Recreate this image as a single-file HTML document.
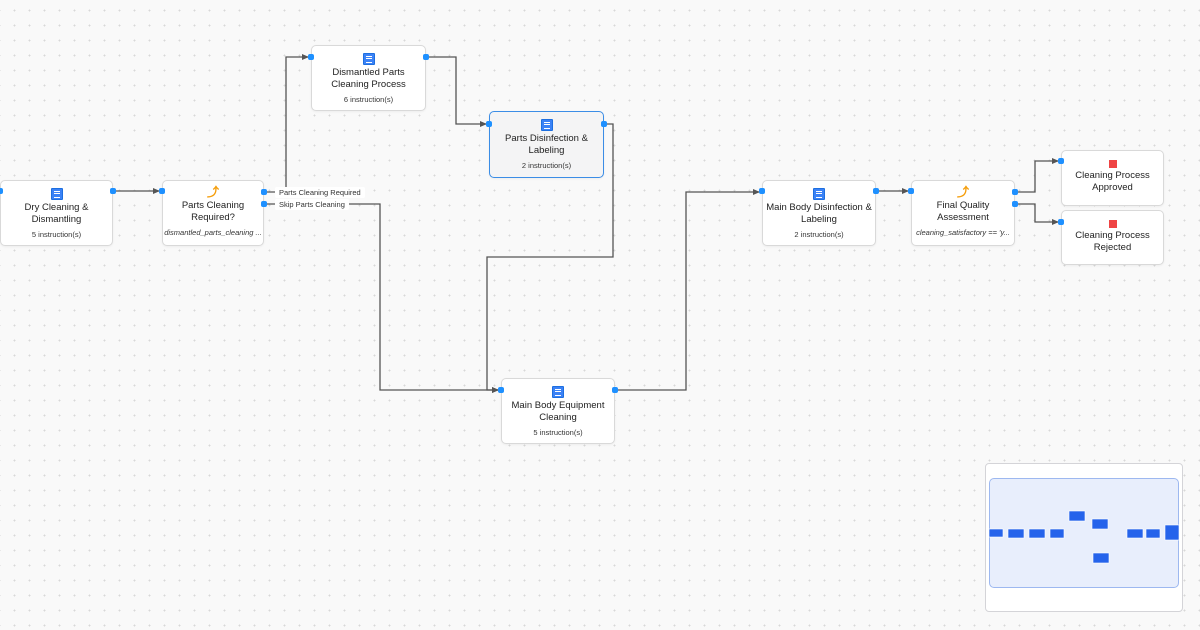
<!DOCTYPE html>
<html><head><meta charset="utf-8"><style>
body{margin:0;width:1200px;height:630px;overflow:hidden;font-family:"Liberation Sans",Arial,sans-serif;background-color:#f9f9f9;background-image:radial-gradient(#d8d8d8 0.8px,transparent 1px);background-size:15px 15px;background-position:7px 3px;position:relative}
.n{position:absolute;background:#fff;border:1px solid #d9d9d9;border-radius:5px;box-sizing:border-box;text-align:center;color:#222;box-shadow:0 1px 2px rgba(0,0,0,0.05)}
.n .t{font-size:9.5px;line-height:12px;margin-top:2px}
.n .s{font-size:7.5px;color:#333;margin-top:4px}
.n .i{font-size:7.5px;font-style:italic;color:#333;margin-top:4px;white-space:nowrap;overflow:hidden}
.ic{width:12px;height:12px;margin:7px auto 0;background:#3b82f6;border:1px solid #1d6fe0;border-radius:1px;box-sizing:border-box;position:relative}
.ic:after{content:"";position:absolute;left:2px;top:2px;width:6px;height:5px;border-top:1px solid #fff;border-bottom:1px solid #fff}
.ic:before{content:"";position:absolute;left:2px;top:4px;width:6px;height:1px;background:#fff}
.st{width:8px;height:8px;background:#ef4444;margin:9px auto 2px}
.br{color:#f59e0b;font-size:12px;line-height:12px;margin-top:5px;font-weight:bold}
.h{position:absolute;width:6px;height:6px;background:#1e90ff;border-radius:2px}
.lbl{position:absolute;background:#fff;font-size:7.5px;color:#333;padding:1px 4px;border-radius:2px}
</style></head><body>
<svg width="1200" height="630" style="position:absolute;left:0;top:0" fill="none" stroke="#555" stroke-width="1.3">
<defs><marker id="a" markerWidth="8" markerHeight="8" refX="7" refY="4" orient="auto" markerUnits="userSpaceOnUse"><path d="M0,1 L7,4 L0,7z" fill="#555" stroke="none"/></marker></defs>
<path d="M113,191 H160" marker-end="url(#a)"/>
<path d="M264,192 H286 V57 H309" marker-end="url(#a)"/>
<path d="M264,204 H380 V390 H499" marker-end="url(#a)"/>
<path d="M426,57 H456 V124 H487" marker-end="url(#a)"/>
<path d="M604,124 H613 V257 H487 V390 H499" marker-end="url(#a)"/>
<path d="M615,390 H686 V192 H760" marker-end="url(#a)"/>
<path d="M876,191 H909" marker-end="url(#a)"/>
<path d="M1015,192 H1035 V161 H1059" marker-end="url(#a)"/>
<path d="M1015,204 H1035 V222 H1059" marker-end="url(#a)"/>
</svg>
<div class="lbl" style="left:275px;top:187px">Parts Cleaning Required</div>
<div class="lbl" style="left:275px;top:199px">Skip Parts Cleaning</div>

<div class="n" style="left:0;top:180px;width:113px;height:66px"><div class="ic"></div><div class="t">Dry Cleaning &amp;<br>Dismantling</div><div class="s">5 instruction(s)</div></div>
<div class="n" style="left:162px;top:180px;width:102px;height:66px"><div class="br">⤴</div><div class="t">Parts Cleaning<br>Required?</div><div class="i">dismantled_parts_cleaning ...</div></div>
<div class="n" style="left:311px;top:45px;width:115px;height:66px"><div class="ic"></div><div class="t">Dismantled Parts<br>Cleaning Process</div><div class="s">6 instruction(s)</div></div>
<div class="n" style="left:489px;top:111px;width:115px;height:67px;background:#f4f4f5;border:1.5px solid #3b8de6"><div class="ic"></div><div class="t">Parts Disinfection &amp;<br>Labeling</div><div class="s">2 instruction(s)</div></div>
<div class="n" style="left:501px;top:378px;width:114px;height:66px"><div class="ic"></div><div class="t">Main Body Equipment<br>Cleaning</div><div class="s">5 instruction(s)</div></div>
<div class="n" style="left:762px;top:180px;width:114px;height:66px"><div class="ic"></div><div class="t">Main Body Disinfection &amp;<br>Labeling</div><div class="s">2 instruction(s)</div></div>
<div class="n" style="left:911px;top:180px;width:104px;height:66px"><div class="br">⤴</div><div class="t">Final Quality<br>Assessment</div><div class="i">cleaning_satisfactory == 'y...</div></div>
<div class="n" style="left:1061px;top:150px;width:103px;height:56px"><div class="st"></div><div class="t">Cleaning Process<br>Approved</div></div>
<div class="n" style="left:1061px;top:210px;width:103px;height:55px"><div class="st"></div><div class="t">Cleaning Process<br>Rejected</div></div>

<div class="h" style="left:-3px;top:188px"></div><div class="h" style="left:110px;top:188px"></div>
<div class="h" style="left:159px;top:188px"></div><div class="h" style="left:261px;top:189px"></div><div class="h" style="left:261px;top:201px"></div>
<div class="h" style="left:308px;top:54px"></div><div class="h" style="left:423px;top:54px"></div>
<div class="h" style="left:486px;top:121px"></div><div class="h" style="left:601px;top:121px"></div>
<div class="h" style="left:498px;top:387px"></div><div class="h" style="left:612px;top:387px"></div>
<div class="h" style="left:759px;top:188px"></div><div class="h" style="left:873px;top:188px"></div>
<div class="h" style="left:908px;top:188px"></div><div class="h" style="left:1012px;top:189px"></div><div class="h" style="left:1012px;top:201px"></div>
<div class="h" style="left:1058px;top:158px"></div><div class="h" style="left:1058px;top:219px"></div>

<div style="position:absolute;left:985px;top:463px;width:198px;height:149px;background:#fff;border:1px solid #d4d4d8;border-radius:4px;box-sizing:border-box"></div>
<div style="position:absolute;left:989px;top:478px;width:190px;height:110px;background:#e8eefc;border:1px solid #9db8f0;border-radius:5px;box-sizing:border-box"></div>
<svg width="1200" height="630" style="position:absolute;left:0;top:0" fill="#2563eb" stroke="#fff" stroke-width="0.6">
<rect x="989" y="529" width="14" height="8"/><rect x="1008" y="529" width="16" height="9"/><rect x="1029" y="529" width="16" height="9"/><rect x="1050" y="529" width="14" height="9"/>
<rect x="1069" y="511" width="16" height="10"/><rect x="1092" y="519" width="16" height="10"/><rect x="1093" y="553" width="16" height="10"/>
<rect x="1127" y="529" width="16" height="9"/><rect x="1146" y="529" width="14" height="9"/><rect x="1165" y="525" width="14" height="15"/>
</svg>
</body></html>
